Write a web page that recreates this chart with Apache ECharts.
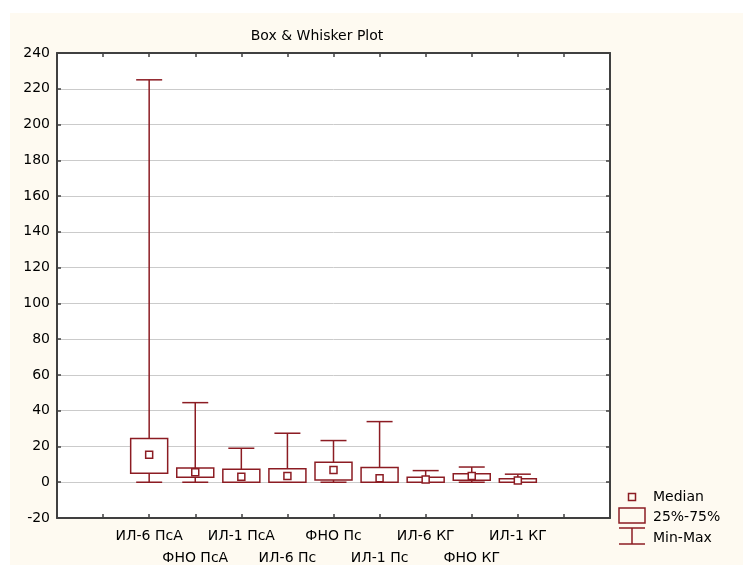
<!DOCTYPE html>
<html>
<head>
<meta charset="utf-8">
<script src="https://cdn.jsdelivr.net/npm/echarts@6/dist/echarts.min.js"></script>
<style>html,body{margin:0;padding:0;background:#fff}#c{width:743px;height:565px}</style>
</head>
<body>
<div id="c"></div>
<script>
const categories = ['ИЛ-6 ПсА','ФНО ПсА','ИЛ-1 ПсА','ИЛ-6 Пс','ФНО Пс','ИЛ-1 Пс','ИЛ-6 КГ','ФНО КГ','ИЛ-1 КГ'];
const minV   = [0, 0, 0, 0, 0, 0, 0, 0, 0];
const q1V    = [5.0, 2.8, 0, 0, 1.3, 0, 0, 1.1, 0];
const medV   = [15.4, 5.6, 3.0, 3.5, 6.9, 2.2, 1.5, 3.5, 0.9];
const q3V    = [24.4, 8.0, 7.3, 7.6, 11.2, 8.2, 2.8, 4.8, 2.0];
const maxV   = [225, 44.5, 19.0, 27.4, 23.3, 33.9, 6.5, 8.5, 4.5];
const yTicks = {min: -20, max: 240, interval: 20};

const RED = '#8c1c23';
const AX = '#404040';
const FONT = 'DejaVu Sans';
const FS = 14;
const slots = ['', ''].concat(categories, ['', '']);
const data = categories.map((c, i) => [c, minV[i], q1V[i], medV[i], q3V[i], maxV[i]]);

const chart = echarts.init(document.getElementById('c'), null, {renderer: 'canvas'});

function renderBox(params, api) {
  const x = api.value(0);
  const pMin = api.coord([x, api.value(1)]);
  const pQ1 = api.coord([x, api.value(2)]);
  const pMed = api.coord([x, api.value(3)]);
  const pQ3 = api.coord([x, api.value(4)]);
  const pMax = api.coord([x, api.value(5)]);
  const cx = pMin[0];
  const bw = 37, cw = 26, ms = 7;
  const ls = {stroke: RED, lineWidth: 1.5, fill: null};
  return {
    type: 'group',
    children: [
      {type: 'line', shape: {x1: cx, y1: pMax[1], x2: cx, y2: pMin[1]}, style: ls},
      {type: 'line', shape: {x1: cx - cw/2, y1: pMax[1], x2: cx + cw/2, y2: pMax[1]}, style: ls},
      {type: 'line', shape: {x1: cx - cw/2, y1: pMin[1], x2: cx + cw/2, y2: pMin[1]}, style: ls},
      {type: 'rect', shape: {x: cx - bw/2, y: pQ3[1], width: bw, height: pQ1[1] - pQ3[1]}, style: {stroke: RED, lineWidth: 1.5, fill: '#fff'}},
      {type: 'rect', shape: {x: cx - ms/2, y: pMed[1] - ms/2, width: ms, height: ms}, style: {stroke: RED, lineWidth: 1.5, fill: '#fff'}}
    ]
  };
}

const legendX = 619;
const tStyle = {fontFamily: FONT, fontSize: FS, fill: '#000', verticalAlign: 'middle'};
const option = {
  backgroundColor: '#fefaf1',
  animation: false,
  title: {
    text: 'Box & Whisker Plot', left: 312, top: 24, textAlign: 'center',
    textStyle: {fontFamily: FONT, fontSize: FS, fontWeight: 'normal', color: '#000'}
  },
  grid: {left: 57, right: 133, top: 53, bottom: 47, show: true, backgroundColor: '#fff', borderWidth: 0,
         containLabel: false, outerBoundsMode: 'none'},
  xAxis: [{
    type: 'category', data: slots, boundaryGap: false, position: 'bottom',
    axisLine: {onZero: false, lineStyle: {color: AX, width: 2}},
    axisTick: {inside: true, length: 4, interval: 0, lineStyle: {color: AX, width: 1.5}},
    axisLabel: {
      interval: 0, margin: 7, fontFamily: FONT, fontSize: FS, color: '#000', lineHeight: 22,
      formatter: (v, i) => (i % 2 === 1 ? '\n' + v : v)
    },
    splitLine: {show: false}
  }, {
    type: 'category', data: slots, boundaryGap: false, position: 'top',
    axisLine: {onZero: false, lineStyle: {color: AX, width: 2}},
    axisTick: {inside: true, length: 4, interval: 0, lineStyle: {color: AX, width: 1.5}},
    axisLabel: {show: false}, splitLine: {show: false}
  }],
  yAxis: [{
    type: 'value', min: yTicks.min, max: yTicks.max, interval: yTicks.interval, position: 'left',
    axisLine: {show: true, onZero: false, lineStyle: {color: AX, width: 2}},
    axisTick: {show: true, inside: true, length: 4, lineStyle: {color: AX, width: 1.5}},
    axisLabel: {margin: 7, fontFamily: FONT, fontSize: FS, color: '#000'},
    splitLine: {show: true, lineStyle: {color: '#cbcbcb', width: 1}}
  }, {
    type: 'value', min: yTicks.min, max: yTicks.max, interval: yTicks.interval, position: 'right',
    axisLine: {show: true, onZero: false, lineStyle: {color: AX, width: 2}},
    axisTick: {show: true, inside: true, length: 4, lineStyle: {color: AX, width: 1.5}},
    axisLabel: {show: false}, splitLine: {show: false}
  }],
  series: [{
    type: 'custom', name: 'Box', xAxisIndex: 0, yAxisIndex: 0,
    renderItem: renderBox, data: data,
    encode: {x: 0, y: [1, 2, 3, 4, 5]}, clip: false
  }],
  graphic: [
    {type: 'rect', shape: {x: 0, y: 0, width: 743, height: 13}, style: {fill: '#fff'}, silent: true},
    {type: 'rect', shape: {x: 0, y: 0, width: 10, height: 565}, style: {fill: '#fff'}, silent: true},
    {type: 'rect', shape: {x: 628.5, y: 493.5, width: 7, height: 7}, style: {stroke: RED, lineWidth: 1.5, fill: 'none'}},
    {type: 'text', x: 653, y: 497, style: Object.assign({text: 'Median'}, tStyle)},
    {type: 'rect', shape: {x: legendX, y: 508, width: 26, height: 15}, style: {stroke: RED, lineWidth: 1.5, fill: 'none'}},
    {type: 'text', x: 653, y: 517, style: Object.assign({text: '25%-75%'}, tStyle)},
    {type: 'line', shape: {x1: legendX, y1: 528, x2: legendX + 26, y2: 528}, style: {stroke: RED, lineWidth: 1.5}},
    {type: 'line', shape: {x1: legendX + 13, y1: 528, x2: legendX + 13, y2: 544}, style: {stroke: RED, lineWidth: 1.5}},
    {type: 'line', shape: {x1: legendX, y1: 544, x2: legendX + 26, y2: 544}, style: {stroke: RED, lineWidth: 1.5}},
    {type: 'text', x: 653, y: 538, style: Object.assign({text: 'Min-Max'}, tStyle)}
  ]
};
chart.setOption(option);
</script>
</body>
</html>
